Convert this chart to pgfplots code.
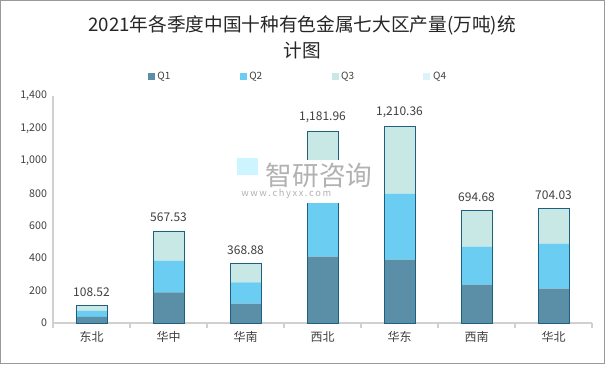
\documentclass[border=0pt]{standalone}
\usepackage{pgfplots}
\pgfplotsset{compat=1.18}
\usepackage{fontspec}
\setmainfont{Noto Sans CJK SC}
\definecolor{cq1}{HTML}{5B8FA8}
\definecolor{cq2}{HTML}{6BCDF2}
\definecolor{cq3}{HTML}{C8E8E6}
\definecolor{cq4}{HTML}{DDF3FB}
\definecolor{edge}{HTML}{1F6080}
\definecolor{txt}{HTML}{404040}
\definecolor{axgray}{HTML}{D0D0D0}
\begin{document}
\begin{tikzpicture}[x=1pt,y=1pt]
\fill[white] (-39.75,-30.75) rectangle (414,242.25);
\begin{axis}[
  at={(0,0)}, anchor=south west,
  scale only axis, width=404.25pt, height=170.25pt,
  ybar stacked, bar width=23.25pt,
  xmin=-0.5, xmax=6.5, ymin=0, ymax=1400,
  xtick={0,...,6},
  xticklabels={东北,华中,华南,西北,华东,西南,华北},
  minor xtick={-0.5,0.5,...,6.5},
  major tick length=0pt, minor tick length=4pt, tick align=outside,
  ytick={0,200,...,1400},
  /pgf/number format/1000 sep={,},
  /pgf/number format/assume math mode=true,
  scaled y ticks=false,
  axis x line*=bottom, axis y line*=left,
  axis line style={axgray, line width=0.8pt},
  every tick/.style={axgray, line width=0.8pt},
  tick label style={text=txt},
  yticklabel style={font=\fontsize{8}{9}\selectfont, xshift=-1pt},
  xticklabel style={font=\fontsize{9}{10}\selectfont, yshift=-3pt},
  legend style={at={(0.455,1.084)}, anchor=center, draw=none, fill=none,
    legend columns=4, font=\fontsize{7.5}{8}\selectfont, text=txt,
    /tikz/every even column/.append style={column sep=50pt}},
  legend image code/.code={\fill[#1] (0pt,-2.6pt) rectangle (5.2pt,2.6pt);},
]
\addplot[fill=cq1, draw=none] coordinates {(0,38) (1,189) (2,119) (3,409) (4,391) (5,236) (6,212)};
\addlegendentry{Q1}
\addplot[fill=cq2, draw=none] coordinates {(0,38) (1,195) (2,131) (3,360) (4,407) (5,235) (6,277)};
\addlegendentry{Q2}
\addplot[fill=cq3, draw=none] coordinates {(0,32.52) (1,183.53) (2,118.88) (3,412.96) (4,412.36) (5,223.68) (6,215.03)};
\addlegendentry{Q3}
\addplot[fill=cq4, draw=none] coordinates {(0,0) (1,0) (2,0) (3,0) (4,0) (5,0) (6,0)};
\addlegendentry{Q4}
\end{axis}
\begin{axis}[
  at={(0,0)}, anchor=south west,
  scale only axis, width=404.25pt, height=170.25pt,
  ybar, bar width=23.25pt,
  xmin=-0.5, xmax=6.5, ymin=0, ymax=1400,
  axis lines=none,
  /pgf/number format/fixed,
  /pgf/number format/fixed zerofill,
  /pgf/number format/precision=2,
  /pgf/number format/1000 sep={,},
  /pgf/number format/assume math mode=true,
  nodes near coords,
  nodes near coords style={font=\fontsize{9}{10}\selectfont, text=txt, yshift=3pt},
]
\addplot[fill=none, draw=edge, line width=0.7pt] coordinates {(0,108.52) (1,567.53) (2,368.88) (3,1181.96) (4,1210.36) (5,694.68) (6,704.03)};
\end{axis}
% watermark
\fill[white] (131.25,90) rectangle (241.5,122.25);
\node[text=black!30, font=\fontsize{20}{20}\selectfont, anchor=center] at (199.5,110.5) {智研咨询};
\node[text=black!30, font=\fontsize{7}{7}\selectfont, anchor=center] at (175,97) {w\,w\,w\,.\,c\,h\,y\,x\,x\,.\,c\,o\,m};
\fill[blue!20!cyan!20] (138,111) rectangle (154,124);
% title
\node[text=black!85, font=\fontsize{14}{14}\selectfont] at (186.75,223.5) {2021年各季度中国十种有色金属七大区产量(万吨)统};
\node[text=black!85, font=\fontsize{14}{14}\selectfont] at (186.75,204.75) {计图};
\draw[black!40, line width=0.8pt] (-39.35,-30.35) rectangle (413.6,241.85);
\end{tikzpicture}
\end{document}
